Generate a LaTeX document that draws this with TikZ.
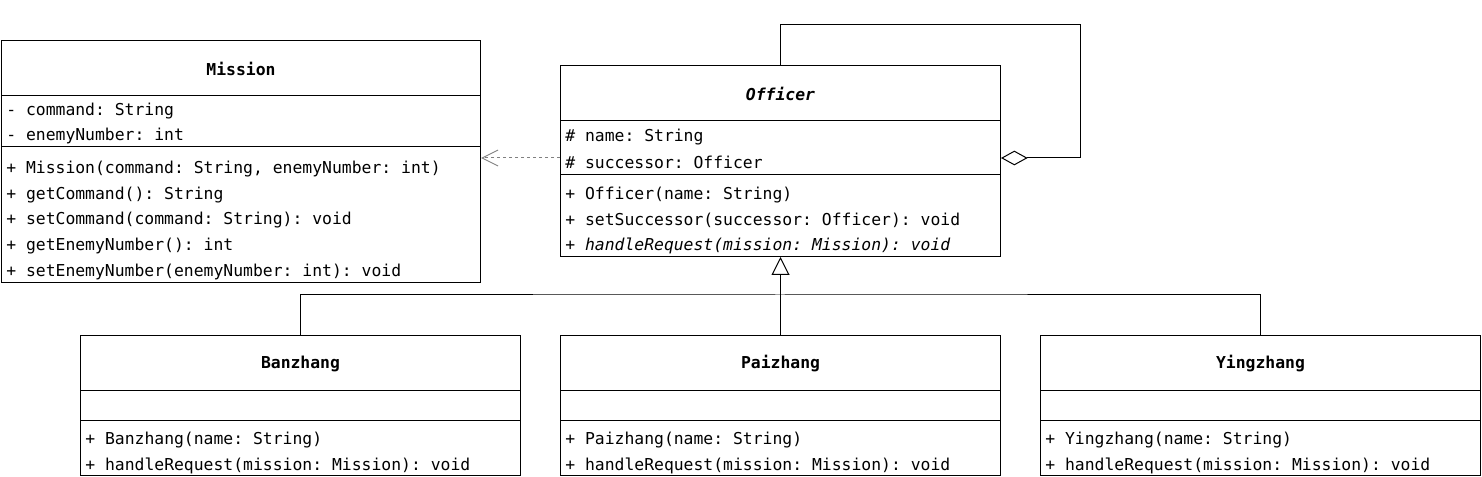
\documentclass[tikz,border=0pt]{standalone}
\usepackage{fontspec}
\setmonofont{DejaVu Sans Mono}
\usetikzlibrary{arrows.meta}

\tikzset{
  comp/.style={draw, rectangle, anchor=north west, inner sep=0pt, line width=0.75pt},
  member/.style={anchor=west, inner sep=0pt, yshift=-1.5pt, font=\ttfamily\fontsize{12.3pt}{14pt}\selectfont},
  title/.style={inner sep=0pt, yshift=-0.75pt, font=\ttfamily\bfseries\fontsize{12.3pt}{14pt}\selectfont},
  link/.style={line width=0.75pt},
}

\begin{document}
\begin{tikzpicture}[x=0.75pt,y=-0.75pt]
          \useasboundingbox (0,0) rectangle (1482,477);
          % Mission
          \node[comp, minimum width=359.25pt, minimum height=41.25pt] (mission-head) at (1,40) {};
          \node[comp, minimum width=359.25pt, minimum height=38.25pt] (mission-attr) at (1,95) {};
          \node[comp, minimum width=359.25pt, minimum height=102pt]   (mission-ops)  at (1,146) {};
          \node[title] (mission-name) at (mission-head) {Mission};
          \node[member] (mission-a1) at (6,109) {- command: String};
          \node[member] (mission-a2) at (6,134) {- enemyNumber: int};
          \node[member] (mission-m1) at (6,167) {+ Mission(command: String, enemyNumber: int)};
          \node[member] (mission-m2) at (6,193) {+ getCommand(): String};
          \node[member] (mission-m3) at (6,218) {+ setCommand(command: String): void};
          \node[member] (mission-m4) at (6,244) {+ getEnemyNumber(): int};
          \node[member] (mission-m5) at (6,270) {+ setEnemyNumber(enemyNumber: int): void};
          % Officer
          \node[comp, minimum width=330pt, minimum height=41.25pt] (officer-head) at (560,65) {};
          \node[comp, minimum width=330pt, minimum height=40.5pt]  (officer-attr) at (560,120) {};
          \node[comp, minimum width=330pt, minimum height=61.5pt]  (officer-ops)  at (560,174) {};
          \node[title, font=\ttfamily\bfseries\itshape\fontsize{12.3pt}{14pt}\selectfont] (officer-name) at (officer-head) {Officer};
          \node[member] (officer-a1) at (565,135) {\# name: String};
          \node[member] (officer-a2) at (565,160) {\# successor: Officer};
          \node[member] (officer-m1) at (565,193) {+ Officer(name: String)};
          \node[member] (officer-m2) at (565,218) {+ setSuccessor(successor: Officer): void};
          \node[member] (officer-m3) at (565,244) {\itshape + handleRequest(mission: Mission): void};
          % Banzhang
          \node[comp, minimum width=330pt, minimum height=41.25pt] (banzhang-head) at (80,335) {};
          \node[comp, minimum width=330pt, minimum height=22.5pt]  (banzhang-attr) at (80,390) {};
          \node[comp, minimum width=330pt, minimum height=41.25pt] (banzhang-ops)  at (80,420) {};
          \node[title] (banzhang-name) at (banzhang-head) {Banzhang};
          \node[member] (banzhang-m1) at (85,438) {+ Banzhang(name: String)};
          \node[member] (banzhang-m2) at (85,464) {+ handleRequest(mission: Mission): void};
          % Paizhang
          \node[comp, minimum width=330pt, minimum height=41.25pt] (paizhang-head) at (560,335) {};
          \node[comp, minimum width=330pt, minimum height=22.5pt]  (paizhang-attr) at (560,390) {};
          \node[comp, minimum width=330pt, minimum height=41.25pt] (paizhang-ops)  at (560,420) {};
          \node[title] (paizhang-name) at (paizhang-head) {Paizhang};
          \node[member] (paizhang-m1) at (565,438) {+ Paizhang(name: String)};
          \node[member] (paizhang-m2) at (565,464) {+ handleRequest(mission: Mission): void};
          % Yingzhang
          \node[comp, minimum width=330pt, minimum height=41.25pt] (yingzhang-head) at (1040,335) {};
          \node[comp, minimum width=330pt, minimum height=22.5pt]  (yingzhang-attr) at (1040,390) {};
          \node[comp, minimum width=330pt, minimum height=41.25pt] (yingzhang-ops)  at (1040,420) {};
          \node[title] (yingzhang-name) at (yingzhang-head) {Yingzhang};
          \node[member] (yingzhang-m1) at (1045,438) {+ Yingzhang(name: String)};
          \node[member] (yingzhang-m2) at (1045,464) {+ handleRequest(mission: Mission): void};
          % connectors
          \coordinate (dep) at (520,158);
          \coordinate (loop) at (1080,25);
          \coordinate (bus) at (780,295);
          \draw[link, gray, dash pattern=on 2.25pt off 2.25pt, -{Straight Barb[length=12pt,width=12pt]}]
               (officer-attr.west |- dep) -- (mission-ops.east |- dep);
          \draw[link, -{Diamond[open,length=20pt,width=11pt]}]
               (officer-head.north) |- (loop) |- (officer-attr.east |- dep);
          \draw[link] (banzhang-head.north) |- (bus) -| (yingzhang-head.north);
          \draw[link, -{Triangle[open,length=13.5pt,width=13.5pt]}] (paizhang-head.north) -- (officer-ops.south);
\end{tikzpicture}
\end{document}
